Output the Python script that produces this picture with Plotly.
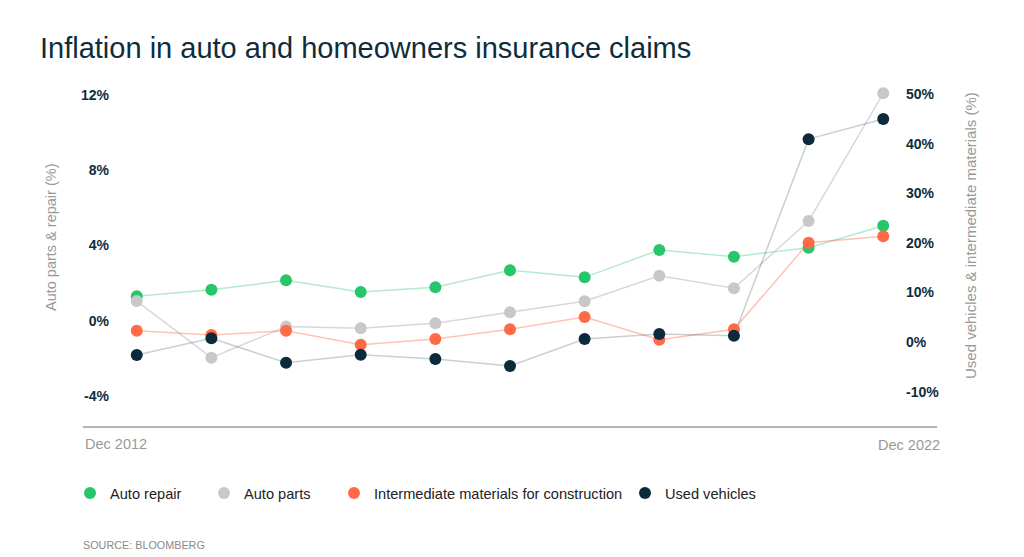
import plotly.graph_objects as go

years = list(range(2012, 2023))
auto_repair = [1.29, 1.64, 2.14, 1.52, 1.77, 2.68, 2.30, 3.76, 3.40, 3.88, 5.05]
auto_parts = [1.04, -1.97, -0.32, -0.41, -0.14, 0.44, 1.03, 2.39, 1.72, 5.30, 12.09]
intermediate = [2.28, 1.41, 2.28, -0.54, 0.60, 2.56, 5.04, 0.47, 2.56, 20.0, 21.3]
used_vehicles = [-2.62, 0.75, -4.17, -2.56, -3.43, -4.84, 0.60, 1.61, 1.27, 40.9, 44.96]

left_ticks = [-4, 0, 4, 8, 12]
left_ticktext = ["-4%", "0%", "4%", "8%", "12%"]
right_ticks = [-10, 0, 10, 20, 30, 40, 50]
right_ticktext = ["-10%", "0%", "10%", "20%", "30%", "40%", "50%"]

series = [
    ("Auto repair", auto_repair, "y", "#28c66b", "rgba(40,198,107,0.35)", "legend"),
    ("Auto parts", auto_parts, "y", "#c8c8c8", "rgba(190,190,190,0.6)", "legend2"),
    ("Intermediate materials for construction", intermediate, "y2", "#ff6a47", "rgba(255,106,71,0.4)", "legend3"),
    ("Used vehicles", used_vehicles, "y2", "#0b2a3b", "rgba(11,42,59,0.22)", "legend4"),
]

FONT = "Liberation Sans, Arial, Helvetica, sans-serif"
NAVY = "#0d2d3c"
GRAY = "#999999"

fig = go.Figure()
for name, vals, ax, mc, lc, lg in series:
    fig.add_trace(go.Scatter(x=years, y=vals, yaxis=ax, mode="lines",
                             line=dict(color=lc, width=1.5), showlegend=False,
                             hoverinfo="skip"))
for name, vals, ax, mc, lc, lg in series:
    fig.add_trace(go.Scatter(x=years, y=vals, yaxis=ax, mode="markers", name=name,
                             marker=dict(color=mc, size=12), legend=lg))

leg_common = dict(orientation="h", yanchor="middle", y=-0.1965, xanchor="left",
                  font=dict(family=FONT, size=14.6, color="#222222"),
                  bgcolor="rgba(0,0,0,0)", borderwidth=0)

fig.update_layout(
    width=1024, height=557,
    margin=dict(l=83, r=87, t=85, b=131),
    paper_bgcolor="white", plot_bgcolor="white",
    font=dict(family=FONT),
    title=dict(text="Inflation in auto and homeowners insurance claims",
               xref="container", x=40/1024, xanchor="left",
               yref="container", y=1-48/557, yanchor="middle",
               font=dict(family=FONT, size=29, color=NAVY)),
    xaxis=dict(range=[2011.28, 2022.72], showgrid=False, zeroline=False,
               showline=True, linecolor="#b5b5b5", linewidth=1.5,
               showticklabels=False, ticks=""),
    yaxis=dict(range=[-5.606, 12.532], tickvals=left_ticks, ticktext=left_ticktext,
               showgrid=False, zeroline=False, showline=False, ticks="",
               anchor="free", position=(109-83)/854,
               tickfont=dict(family=FONT, size=14, color=NAVY, weight="bold")),
    yaxis2=dict(range=[-16.935, 51.815], tickvals=right_ticks, ticktext=right_ticktext,
                overlaying="y", side="right", anchor="free", position=(905-83)/854,
                showgrid=False, zeroline=False, showline=False, ticks="",
                tickfont=dict(family=FONT, size=14, color=NAVY, weight="bold")),
    legend=dict(x=(91-21-83)/854, **leg_common),
    legend2=dict(x=(225-21-83)/854, **leg_common),
    legend3=dict(x=(355-21-83)/854, **leg_common),
    legend4=dict(x=(646-21-83)/854, **leg_common),
    showlegend=True,
)

annos = [
    dict(text="Dec 2012", x=0, y=(426-444)/341, xanchor="left", yanchor="middle",
         font=dict(size=14.5, color=GRAY)),
    dict(text="Dec 2022", x=(942-83)/854, y=(426-445)/341, xanchor="right", yanchor="middle",
         font=dict(size=14.5, color=GRAY)),
    dict(text="Auto parts & repair (%)", x=(51-83)/854, y=(426-238)/341, textangle=-90,
         xanchor="center", yanchor="middle", font=dict(size=14.5, color=GRAY)),
    dict(text="Used vehicles & intermediate materials (%)", x=(970-83)/854, y=(426-235)/341,
         textangle=-90, xanchor="center", yanchor="middle", font=dict(size=15, color=GRAY)),
    dict(text="SOURCE: BLOOMBERG", x=(81-83)/854, y=(426-545)/341, xanchor="left",
         yanchor="middle", font=dict(size=10.8, color="#8a8a8a")),
]
for a in annos:
    fig.add_annotation(xref="paper", yref="paper", showarrow=False,
                       font_family=FONT, **{k: v for k, v in a.items()})

fig.write_html("out.html")
